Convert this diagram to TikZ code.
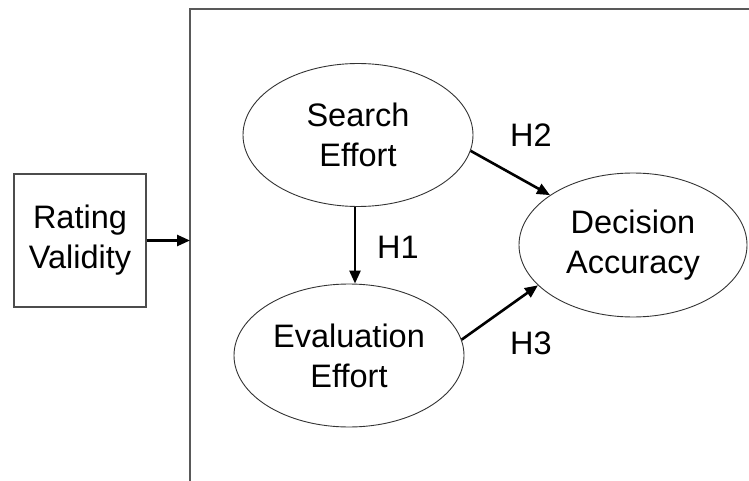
\documentclass[tikz,border=0pt]{standalone}
\usepackage{fontspec}
\setmainfont{Liberation Sans}
\usetikzlibrary{shapes.geometric,arrows.meta}
\begin{document}
\begin{tikzpicture}[x=1pt,y=-1pt,
  txt/.style={font=\fontsize{32.5}{40}\selectfont, align=center, text=black},
  construct/.style={txt, ellipse, draw=black!80, line width=0.9pt,
    minimum width=230pt, minimum height=143pt, inner sep=0pt},
  sourcebox/.style={txt, draw=black!70, line width=1.3pt,
    minimum width=132pt, minimum height=133pt, inner sep=0pt},
  frameline/.style={draw=black!65, line width=1.5pt},
  link/.style={line width=2.6pt, -{Triangle[length=13pt,width=11pt]}},
  hyp/.style={txt, inner sep=0pt}]
\useasboundingbox (0,0) rectangle (749,481);

% outer frame (runs past the right and bottom edges)
\coordinate (ftl) at (190,9);
\coordinate (fbl) at (190,481);
\coordinate (ftr) at (749,9);
\draw[frameline] (fbl) -- (ftl) -- (ftr);

% moderator box
\node[sourcebox] (rv) at (80,240.5) {Rating\\Validity};
\draw[link] (rv.east) -- (rv.east -| ftl);

% constructs
\node[construct] (se) at (358,135) {Search\\Effort};
\node[construct] (ee) at (349,355.5) {Evaluation\\Effort};
\node[construct, minimum width=228pt, minimum height=144pt] (de) at (633,245) {Decision\\Accuracy};

% hypothesised paths
\draw[link] (355,207) coordinate (h1s) -- (h1s |- ee.north);
\draw[link] (se.-8.4) -- (de.149);
\draw[link] (ee.8.6) -- (de.203);

% path labels
\node[hyp] (h1) at (398,247) {H1};
\node[hyp] (h2) at (531,135) {H2};
\node[hyp] (h3) at (531,343) {H3};
\end{tikzpicture}
\end{document}
